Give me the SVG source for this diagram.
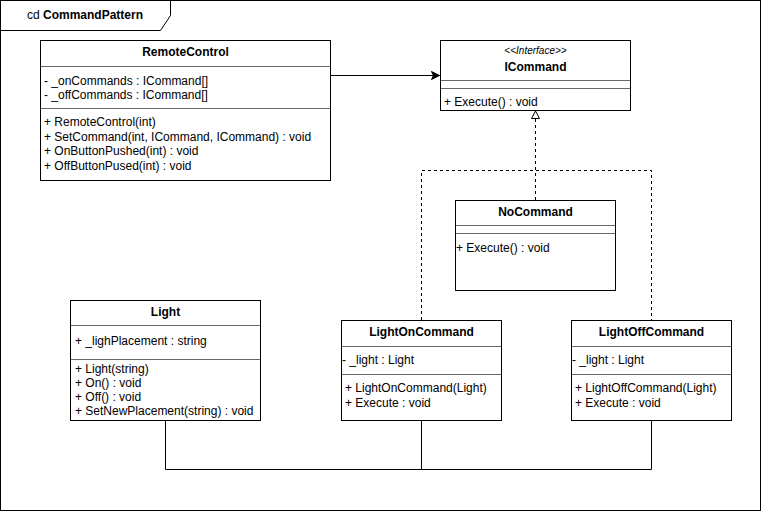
<svg xmlns="http://www.w3.org/2000/svg" width="761" height="511" viewBox="0 0 761 511">
<style>
text{font-family:"Liberation Sans",Arial,sans-serif;font-size:12px;fill:#000}
.b{font-weight:bold}
.c{text-anchor:middle}
.box{fill:#fff;stroke:#000;stroke-width:1}
.sep{stroke:#000;stroke-width:1;fill:none;opacity:0.6}
.ln{stroke:#000;stroke-width:1;fill:none}
.dash{stroke:#000;stroke-width:1;fill:none;stroke-dasharray:3 3}
</style>
<defs>
<marker id="arr" markerWidth="10" markerHeight="10" refX="9" refY="5" orient="auto" markerUnits="userSpaceOnUse">
<path d="M1,1 L9,5 L1,9 L3,5 Z" fill="#000" stroke="#000" stroke-width="1"/>
</marker>
</defs>
<rect x="0" y="0" width="761" height="511" fill="#fff"/>
<g id="frame">
<rect x="0.5" y="0.5" width="760" height="510" fill="none" stroke="#000"/>
<path d="M0.5,30.5 H160.5 L170.5,15.5 V0.5" class="ln"/>
<text x="85" y="19" class="c">cd <tspan class="b">CommandPattern</tspan></text>
</g>
<g id="connectors">
<line x1="330.5" y1="75.5" x2="439.5" y2="75.5" class="ln" marker-end="url(#arr)"/>
<path d="M535.5,200 V118" class="dash"/>
<path d="M421.5,320 V170.5 H651.5 V320" class="dash"/>
<path d="M535.5,111 L539.5,118.5 L531.5,118.5 Z" fill="#fff" stroke="#000"/>
<path d="M165.5,420 V469.5 H651.5 V420" class="ln"/>
<path d="M421.5,420 V469.5" class="ln"/>
</g>
<g id="RemoteControl">
<rect x="40.5" y="40.5" width="290" height="140" class="box"/>
<line x1="40.5" y1="66.5" x2="330.5" y2="66.5" class="sep"/>
<line x1="40.5" y1="108.5" x2="330.5" y2="108.5" class="sep"/>
<text x="185.5" y="56" class="b c">RemoteControl</text>
<text x="44" y="85">- _onCommands : ICommand[]</text>
<text x="44" y="99">- _offCommands : ICommand[]</text>
<text x="44" y="126">+ RemoteControl(int)</text>
<text x="44" y="141">+ SetCommand(int, ICommand, ICommand) : void</text>
<text x="44" y="155">+ OnButtonPushed(int) : void</text>
<text x="44" y="170">+ OffButtonPused(int) : void</text>
</g>
<g id="ICommand">
<rect x="440.5" y="40.5" width="190" height="70" class="box"/>
<line x1="440.5" y1="80.5" x2="630.5" y2="80.5" class="sep"/>
<line x1="440.5" y1="88.5" x2="630.5" y2="88.5" class="sep"/>
<text x="535.5" y="54" class="c" style="font-size:10px;font-style:italic">&lt;&lt;Interface&gt;&gt;</text>
<text x="535.5" y="71" class="b c">ICommand</text>
<text x="444" y="106">+ Execute() : void</text>
</g>
<g id="NoCommand">
<rect x="455.5" y="200.5" width="160" height="90" class="box"/>
<line x1="455.5" y1="225.5" x2="615.5" y2="225.5" class="sep"/>
<line x1="455.5" y1="233.5" x2="615.5" y2="233.5" class="sep"/>
<text x="535.5" y="216" class="b c">NoCommand</text>
<text x="456" y="252">+ Execute() : void</text>
</g>
<g id="Light">
<rect x="70.5" y="300.5" width="190" height="120" class="box"/>
<line x1="70.5" y1="325.5" x2="260.5" y2="325.5" class="sep"/>
<line x1="70.5" y1="359.5" x2="260.5" y2="359.5" class="sep"/>
<text x="165.5" y="316" class="b c">Light</text>
<text x="75" y="345">+ _lighPlacement : string</text>
<text x="75" y="373">+ Light(string)</text>
<text x="75" y="387">+ On() : void</text>
<text x="75" y="401">+ Off() : void</text>
<text x="75" y="415">+ SetNewPlacement(string) : void</text>
</g>
<g id="LightOnCommand">
<rect x="341.5" y="320.5" width="160" height="100" class="box"/>
<line x1="341.5" y1="346.5" x2="501.5" y2="346.5" class="sep"/>
<line x1="341.5" y1="374.5" x2="501.5" y2="374.5" class="sep"/>
<text x="421.5" y="336" class="b c">LightOnCommand</text>
<text x="342" y="364">- _light : Light</text>
<text x="345" y="392">+ LightOnCommand(Light)</text>
<text x="345" y="407">+ Execute : void</text>
</g>
<g id="LightOffCommand">
<rect x="571.5" y="320.5" width="160" height="100" class="box"/>
<line x1="571.5" y1="346.5" x2="731.5" y2="346.5" class="sep"/>
<line x1="571.5" y1="374.5" x2="731.5" y2="374.5" class="sep"/>
<text x="651.5" y="336" class="b c">LightOffCommand</text>
<text x="572" y="364">- _light : Light</text>
<text x="575" y="392">+ LightOffCommand(Light)</text>
<text x="575" y="407">+ Execute : void</text>
</g>
</svg>
